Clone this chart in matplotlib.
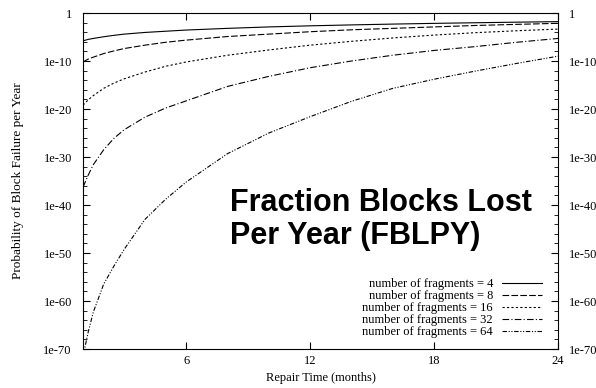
import matplotlib.pyplot as plt
from matplotlib.ticker import FixedLocator, NullFormatter

# repair time in months and log10 of probability
months = [1, 1.25, 1.5, 2, 2.5, 3, 4, 5, 6, 8, 10, 12, 14, 16, 18, 20, 22, 24]
exp_n4 = [-5.8, -5.5, -5.3, -4.95, -4.65, -4.4, -4.05, -3.8, -3.55, -3.2, -2.9, -2.67, -2.48, -2.31, -2.16, -2.03, -1.91, -1.8]
exp_n8 = [-10.2, -9.6, -9.2, -8.45, -7.9, -7.4, -6.7, -6.1, -5.65, -4.9, -4.4, -3.9, -3.5, -3.2, -2.9, -2.6, -2.37, -2.15]
exp_n16 = [-19.2, -18.1, -17.2, -15.7, -14.6, -13.7, -12.3, -11.1, -10.2, -8.8, -7.7, -6.7, -5.9, -5.2, -4.6, -4.1, -3.7, -3.35]
exp_n32 = [-36.3, -33.8, -31.6, -28.5, -26.1, -24.3, -21.7, -19.8, -18.3, -15.3, -13.2, -11.4, -10.0, -8.8, -7.8, -7.0, -6.1, -5.3]
exp_n64 = [-71.5, -66.5, -62.3, -56.5, -52.7, -49.2, -43.0, -38.8, -35.2, -29.3, -25.0, -21.6, -18.4, -15.7, -13.8, -12.1, -10.5, -9.0]

fragments = [4, 8, 16, 32, 64]
series = [exp_n4, exp_n8, exp_n16, exp_n32, exp_n64]
styles = ['-', (0, (6, 2)), (0, (2, 2)), (0, (6, 2, 1, 2)), (0, (4, 1.5, 1, 1.5, 1, 1.5))]

ytick_vals = [1e0, 1e-10, 1e-20, 1e-30, 1e-40, 1e-50, 1e-60, 1e-70]
ytick_labels = ['1', '1e-10', '1e-20', '1e-30', '1e-40', '1e-50', '1e-60', '1e-70']
xtick_vals = [6, 12, 18, 24]

serif = 'Liberation Serif'

fig = plt.figure(figsize=(5.96, 3.88), dpi=100)
ax = fig.add_axes([83 / 596, 1 - 349 / 388, (558 - 83) / 596, (349 - 13) / 388])

for n, ex, ls in zip(fragments, series, styles):
    ax.plot(months, [10.0 ** e for e in ex], color='black', lw=0.8, linestyle=ls,
            label='number of fragments = %d' % n)

ax.set_yscale('log')
ax.set_xlim(1, 24)
ax.set_ylim(1e-70, 1)

ax.yaxis.set_major_locator(FixedLocator(ytick_vals))
ax.yaxis.set_minor_locator(FixedLocator([10.0 ** -k for k in range(2, 70, 2) if k % 10]))
ax.yaxis.set_minor_formatter(NullFormatter())
ax.set_yticks(ytick_vals)
ax.set_yticklabels(ytick_labels, fontfamily=serif, fontsize=9)
ax.set_xticks(xtick_vals)
ax.set_xticklabels([str(v) for v in xtick_vals], fontfamily=serif, fontsize=9)

ax.tick_params(axis='both', which='major', direction='in', length=5, width=0.8,
               top=True, right=True, labelright=True)
ax.tick_params(axis='y', which='major', pad=8)
ax.tick_params(axis='x', which='major', pad=4)
ax.tick_params(axis='y', which='minor', direction='in', length=3, width=0.6, right=True)
for s in ax.spines.values():
    s.set_linewidth(0.8)

ax.set_xlabel('Repair Time (months)', fontfamily=serif, fontsize=9, labelpad=4)
ax.set_ylabel('Probability of Block Failure per Year', fontfamily=serif, fontsize=9.5, labelpad=14)

leg = ax.legend(loc='lower right', bbox_to_anchor=(0.977, 0.018), frameon=False,
                markerfirst=False, handlelength=3.2, prop={'family': serif, 'size': 9},
                labelspacing=0.0, borderaxespad=0, handletextpad=0.72)

ax.text(0.309, 0.479, 'Fraction Blocks Lost\nPer Year (FBLPY)', transform=ax.transAxes,
        fontsize=22, fontweight='bold', family='Liberation Sans', va='top', ha='left',
        linespacing=1.12)

fig.savefig('out.png', dpi=100)
